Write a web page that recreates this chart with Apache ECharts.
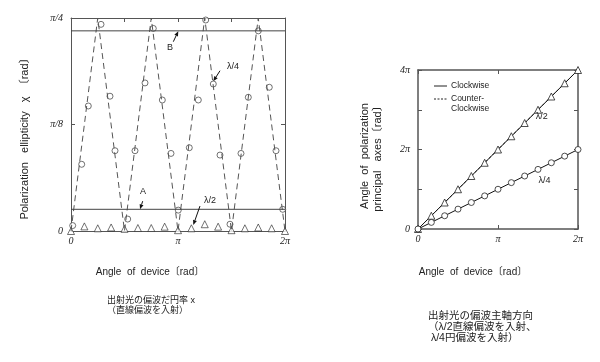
<!DOCTYPE html>
<html><head><meta charset="utf-8">
<script src="https://cdn.jsdelivr.net/npm/echarts@6/dist/echarts.min.js"></script>
<style>html,body{margin:0;padding:0;background:#fff}#c{width:600px;height:362px}</style>
</head><body><div id="c"></div>
<script>
const PI = Math.PI;
// ---- Left chart: polarization ellipticity (linear polarized input) ----
const waveX = [0, PI/4, PI/2, 3*PI/4, PI, 5*PI/4, 3*PI/2, 7*PI/4, 2*PI];
const waveY = [0, PI/4, 0, PI/4, 0, PI/4, 0, PI/4, 0];
const quarterX = [0.05, 0.314, 0.508, 0.881, 1.145, 1.292, 1.665, 1.879, 2.173, 2.416, 2.681, 2.936, 3.15, 3.473, 3.738, 3.955, 4.178, 4.375, 4.668, 4.991, 5.206, 5.499, 5.822, 6.019, 6.216];
const quarterY = [0.020, 0.246, 0.461, 0.762, 0.497, 0.296, 0.044, 0.296, 0.546, 0.747, 0.483, 0.286, 0.077, 0.307, 0.483, 0.778, 0.542, 0.280, 0.025, 0.286, 0.493, 0.738, 0.530, 0.296, 0.080];
const halfX = [0, PI/8, 2*PI/8, 3*PI/8, 4*PI/8, 5*PI/8, 6*PI/8, 7*PI/8, PI, 9*PI/8, 10*PI/8, 11*PI/8, 12*PI/8, 13*PI/8, 14*PI/8, 15*PI/8, 2*PI];
const halfY = [0, 0.017, 0.010, 0.013, 0.008, 0.011, 0.011, 0.016, 0.003, 0.010, 0.025, 0.016, 0.003, 0.010, 0.013, 0.010, 0];
const lineA = 0.080;
const lineB = 0.738;
const leftXTickLabels = ['0', '', 'π', '', '2π'];
const leftYTickLabels = ['0', 'π/8', 'π/4'];
// ---- Right chart: principal axis angle ----
const rightX = [0, PI/6, 2*PI/6, 3*PI/6, 4*PI/6, 5*PI/6, PI, 7*PI/6, 8*PI/6, 9*PI/6, 10*PI/6, 11*PI/6, 2*PI];
const rightHalfY = [0, PI/3, 2*PI/3, PI, 4*PI/3, 5*PI/3, 2*PI, 7*PI/3, 8*PI/3, 3*PI, 10*PI/3, 11*PI/3, 4*PI];
const rightQuarterY = [0, PI/6, 2*PI/6, 3*PI/6, 4*PI/6, 5*PI/6, PI, 7*PI/6, 8*PI/6, 9*PI/6, 10*PI/6, 11*PI/6, 2*PI];
const rightXTickLabels = ['0', 'π', '2π'];
const rightYTickLabels = ['0', '', '2π', '', '4π'];

// annotations (data coordinates)
const leftNotes = [
  {text: 'A', at: [2.114, 0.147], tail: [2.105, 0.110], head: [2.026, 0.080]},
  {text: 'B', at: [2.907, 0.676], tail: [3.004, 0.698], head: [3.150, 0.737]},
  {text: 'λ/4', at: [4.756, 0.605], tail: [4.375, 0.591], head: [4.178, 0.552]},
  {text: 'λ/2', at: [4.081, 0.114], tail: [3.787, 0.092], head: [3.591, 0.022]}
];
const rightNotes = [
  {text: 'λ/2', at: [1.546*PI, 2.83*PI]},
  {text: 'λ/4', at: [1.58*PI, 1.21*PI]}
];

const zip = (xs, ys) => xs.map((x, i) => [x, ys[i]]);
const frame = '#555';
const tickFont = {fontFamily: 'Liberation Serif', fontStyle: 'italic', fontSize: 10, color: '#222'};

function xAx(grid, pos, max, interval, labels, lw) {
  return {type: 'value', gridIndex: grid, position: pos, min: 0, max: max, interval: interval,
    axisLine: {show: true, onZero: false, lineStyle: {color: frame, width: lw}},
    axisTick: {show: true, inside: true, length: 4, lineStyle: {color: frame}},
    splitLine: {show: false},
    axisLabel: labels ? Object.assign({show: true, margin: 5, formatter: (v, i) => labels[i] || ''}, tickFont) : {show: false}
  };
}
function yAx(grid, pos, max, interval, labels, lw) {
  return {type: 'value', gridIndex: grid, position: pos, min: 0, max: max, interval: interval,
    axisLine: {show: true, onZero: false, lineStyle: {color: frame, width: lw}},
    axisTick: {show: true, inside: true, length: 4, lineStyle: {color: frame}},
    splitLine: {show: false},
    axisLabel: labels ? Object.assign({show: true, margin: 8, formatter: (v, i) => labels[i] || ''}, tickFont) : {show: false}
  };
}
const circleStyle = {color: '#fff', borderColor: '#222', borderWidth: 0.8};

const option = {
  animation: false,
  backgroundColor: '#fff',
  grid: [
    {left: 71, top: 18, width: 214, height: 213},
    {left: 418, top: 70, width: 160, height: 159}
  ],
  xAxis: [
    xAx(0, 'bottom', 2*PI, PI/2, leftXTickLabels, 1),
    xAx(0, 'top', 2*PI, PI/2, null, 1),
    xAx(1, 'bottom', 2*PI, PI, rightXTickLabels, 1.5),
    xAx(1, 'top', 2*PI, PI, null, 1.5)
  ],
  yAxis: [
    yAx(0, 'left', PI/4, PI/8, leftYTickLabels, 1),
    yAx(0, 'right', PI/4, PI/8, null, 1),
    yAx(1, 'left', 4*PI, PI, rightYTickLabels, 1.5),
    yAx(1, 'right', 4*PI, PI, null, 1.5)
  ],
  series: [
    {type: 'line', xAxisIndex: 0, yAxisIndex: 0, data: zip(waveX, waveY), showSymbol: false,
      lineStyle: {color: '#555', width: 1, type: [6, 4]}},
    {type: 'line', xAxisIndex: 0, yAxisIndex: 0, data: [[0, lineA], [2*PI, lineA]], showSymbol: false,
      lineStyle: {color: '#444', width: 1}},
    {type: 'line', xAxisIndex: 0, yAxisIndex: 0, data: [[0, lineB], [2*PI, lineB]], showSymbol: false,
      lineStyle: {color: '#444', width: 1}},
    {type: 'scatter', xAxisIndex: 0, yAxisIndex: 0, data: zip(quarterX, quarterY), symbol: 'circle', symbolSize: 6,
      itemStyle: circleStyle},
    {type: 'scatter', xAxisIndex: 0, yAxisIndex: 0, data: zip(halfX, halfY), symbol: 'triangle', symbolSize: 7,
      itemStyle: circleStyle},
    {type: 'line', xAxisIndex: 2, yAxisIndex: 2, data: zip(rightX, rightHalfY), symbol: 'triangle', symbolSize: 7,
      showSymbol: true, lineStyle: {color: '#111', width: 1}, itemStyle: circleStyle, z: 3},
    {type: 'line', xAxisIndex: 2, yAxisIndex: 2, data: zip(rightX, rightHalfY), showSymbol: false,
      lineStyle: {color: '#333', width: 1, type: [3, 2]}, z: 2},
    {type: 'line', xAxisIndex: 2, yAxisIndex: 2, data: zip(rightX, rightQuarterY), symbol: 'circle', symbolSize: 6,
      showSymbol: true, lineStyle: {color: '#111', width: 1}, itemStyle: circleStyle}
  ]
};

const chart = echarts.init(document.getElementById('c'));
chart.setOption(option);

const txtStyle = (t, size, extra) => Object.assign({text: t, fontSize: size, fontFamily: 'Liberation Sans, Noto Sans CJK JP', fill: '#222'}, extra || {});
function arrow(t, h) {
  const dx = h[0]-t[0], dy = h[1]-t[1], L = Math.hypot(dx, dy), ux = dx/L, uy = dy/L;
  const hl = 5, hw = 2;
  const bx = h[0]-ux*hl, by = h[1]-uy*hl;
  return [
    {type: 'line', shape: {x1: t[0], y1: t[1], x2: bx, y2: by}, style: {stroke: '#111', lineWidth: 1}, z: 10},
    {type: 'polygon', shape: {points: [[h[0], h[1]], [bx-uy*hw, by+ux*hw], [bx+uy*hw, by-ux*hw]]}, style: {fill: '#111'}, z: 10}
  ];
}
const g = [];
leftNotes.forEach(n => {
  const p = chart.convertToPixel({seriesIndex: 3}, n.at);
  g.push({type: 'text', x: p[0], y: p[1], style: txtStyle(n.text, 9, {align: 'center', verticalAlign: 'middle'}), z: 10});
  g.push(...arrow(chart.convertToPixel({seriesIndex: 3}, n.tail), chart.convertToPixel({seriesIndex: 3}, n.head)));
});
rightNotes.forEach(n => {
  const p = chart.convertToPixel({seriesIndex: 5}, n.at);
  g.push({type: 'text', x: p[0], y: p[1], style: txtStyle(n.text, 9, {align: 'center', verticalAlign: 'middle'}), z: 10});
});
// axis names
g.push({type: 'text', x: 25, y: 136, rotation: PI/2,
  style: txtStyle('Polarization   ellipticity   χ  〔rad〕', 11, {align: 'center', verticalAlign: 'middle'})});
g.push({type: 'text', x: 371, y: 156, rotation: PI/2,
  style: txtStyle('Angle  of  polarization\nprincipal   axes〔rad〕', 11, {align: 'center', verticalAlign: 'middle', lineHeight: 13})});
g.push({type: 'text', x: 150, y: 272, style: txtStyle('Angle  of  device〔rad〕', 10, {align: 'center', verticalAlign: 'middle'})});
g.push({type: 'text', x: 473, y: 272, style: txtStyle('Angle  of  device〔rad〕', 10, {align: 'center', verticalAlign: 'middle'})});
// captions
g.push({type: 'text', x: 107, y: 306, style: txtStyle('出射光の偏波だ円率 x\n（直線偏波を入射）', 9, {align: 'left', verticalAlign: 'middle', lineHeight: 10})});
g.push({type: 'text', x: 428, y: 327, style: txtStyle('出射光の偏波主軸方向\n（λ/2直線偏波を入射、\n λ/4円偏波を入射）', 10.5, {align: 'left', verticalAlign: 'middle', lineHeight: 11})});
// legend
g.push({type: 'line', shape: {x1: 434, y1: 86, x2: 447, y2: 86}, style: {stroke: '#222', lineWidth: 1}});
g.push({type: 'text', x: 451, y: 86, style: txtStyle('Clockwise', 8.5, {verticalAlign: 'middle'})});
g.push({type: 'line', shape: {x1: 434, y1: 99, x2: 448, y2: 99}, style: {stroke: '#222', lineWidth: 1, lineDash: [2, 1.5]}});
g.push({type: 'text', x: 451, y: 99, style: txtStyle('Counter-\nClockwise', 8.5, {verticalAlign: 'top', lineHeight: 10, y: -5})});
chart.setOption({graphic: g});
</script>
</body></html>
